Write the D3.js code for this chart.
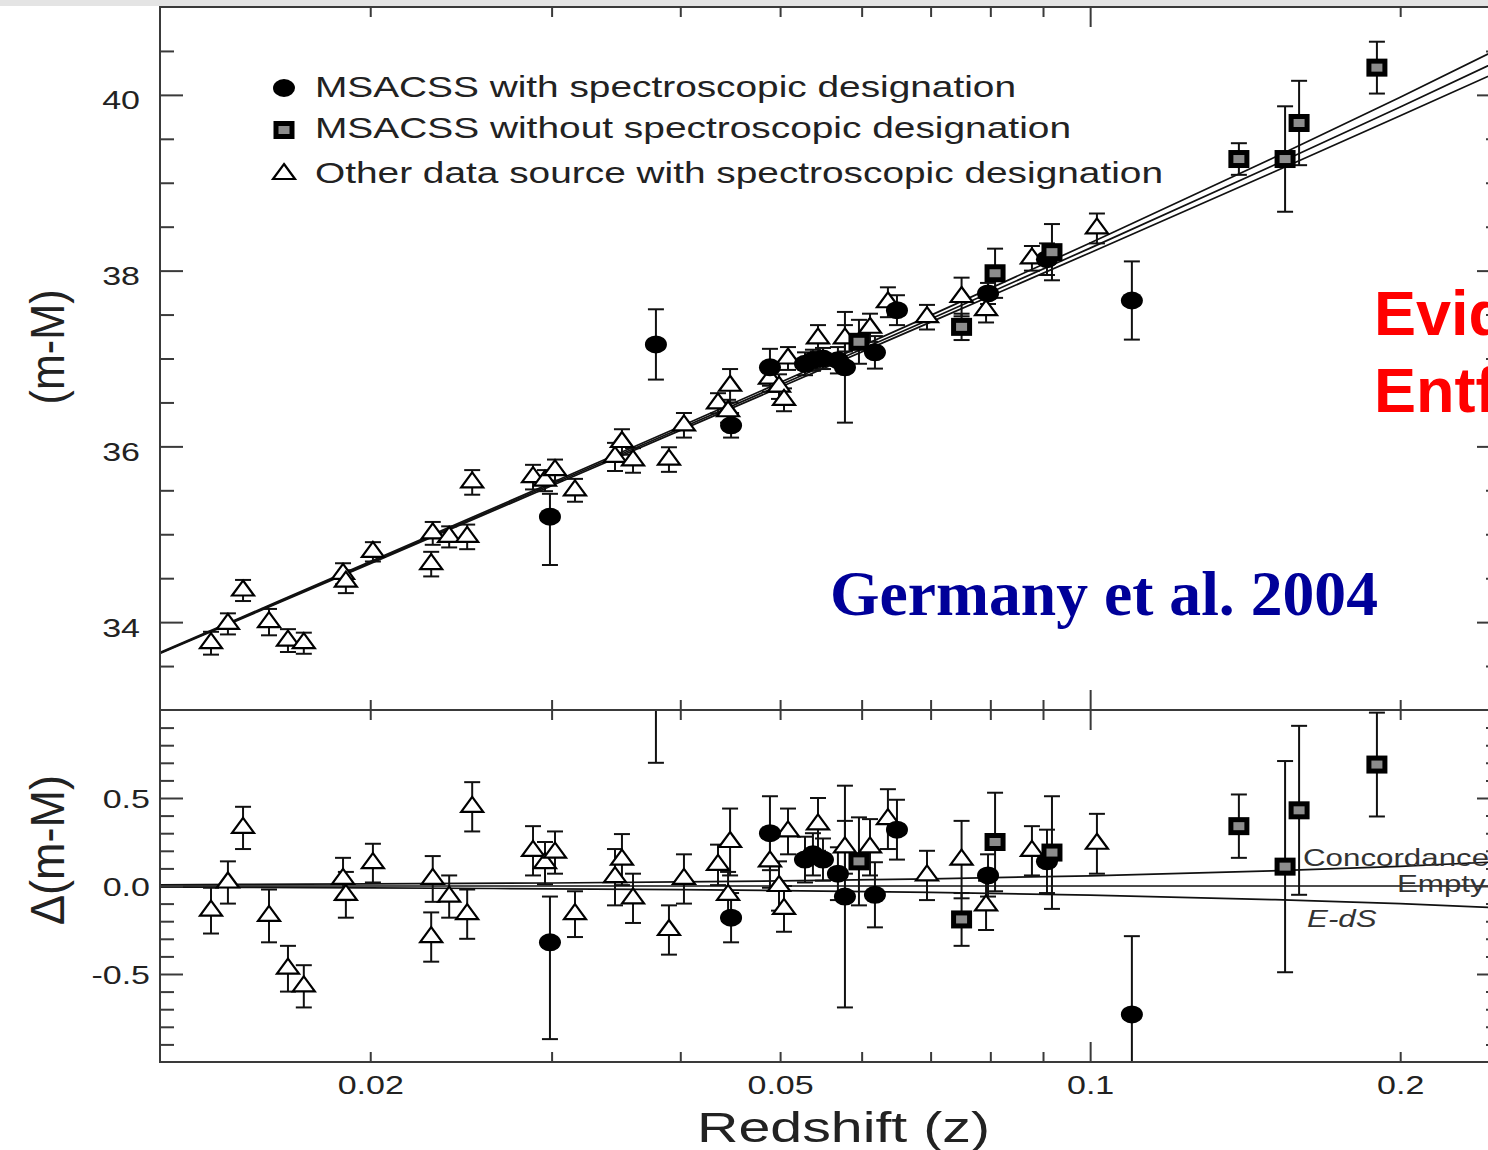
<!DOCTYPE html>
<html>
<head>
<meta charset="utf-8">
<script src="https://cdn.jsdelivr.net/npm/d3@7"></script>
<style>
  html, body { margin: 0; padding: 0; background: #fff; overflow: hidden; }
  svg { display: block; }
  text { font-family: "Liberation Sans", Arial, Helvetica, sans-serif; }
  text.serif { font-family: "Liberation Serif", "Times New Roman", serif; }
</style>
</head>
<body>
<svg id="chart" width="1488" height="1150"></svg>
<script>
// ---------- MSACSS supernovae with spectroscopic designation (filled circles) ----------
const specZ     = [0.02989, 0.03788, 0.04481, 0.04888, 0.05286, 0.05381, 0.05503, 0.05690, 0.05780, 0.06181, 0.06493, 0.07959, 0.09080, 0.10978];
const specMu    = [35.20, 37.16, 36.24, 36.90, 36.94, 36.98, 37.00, 36.98, 36.90, 37.07, 37.55, 37.74, 38.13, 37.66];
const specRes   = [-0.32, 1.10, -0.18, 0.30, 0.15, 0.18, 0.15, 0.07, -0.06, -0.05, 0.32, 0.06, 0.14, -0.73];
const specErrLo = [0.55, 0.40, 0.14, 0.21, 0.13, 0.12, 0.12, 0.15, 0.63, 0.185, 0.17, 0.12, 0.18, 0.445];
const specErrHi = [0.26, 0.40, 0.14, 0.21, 0.13, 0.12, 0.12, 0.15, 0.63, 0.185, 0.17, 0.12, 0.18, 0.445];

// ---------- MSACSS supernovae without spectroscopic designation (grey squares) ----------
const noSpecZ   = [0.05964, 0.07502, 0.08085, 0.09182, 0.13945, 0.15462, 0.15954, 0.18986];
const noSpecMu  = [37.19, 37.36, 37.97, 38.21, 39.27, 39.27, 39.68, 40.31];
const noSpecRes = [0.14, -0.19, 0.25, 0.19, 0.34, 0.11, 0.43, 0.69];
const noSpecErr = [0.25, 0.15, 0.28, 0.32, 0.18, 0.60, 0.48, 0.295];

// ---------- other data sources with spectroscopic designation (open triangles) ----------
const otherZ = [0.01401, 0.01455, 0.01505, 0.01595, 0.01664, 0.01724, 0.01882, 0.01894, 0.02012, 0.02300,
                0.02292, 0.02386, 0.02484, 0.02512, 0.02878, 0.02956, 0.03023, 0.03161, 0.03457, 0.03511,
                0.03599, 0.03900, 0.04033, 0.04352, 0.04471, 0.04451, 0.04888, 0.04988, 0.05044, 0.05089,
                0.05442, 0.05780, 0.06113, 0.06363, 0.06944, 0.07502, 0.07924, 0.08780, 0.10153];
const otherMu = [33.76, 33.98, 34.36, 34.00, 33.79, 33.76, 34.55, 34.46, 34.80, 35.01,
                 34.66, 34.97, 34.97, 35.59, 35.65, 35.61, 35.73, 35.50, 35.88, 36.05,
                 35.84, 35.85, 36.24, 36.49, 36.69, 36.40, 36.77, 36.68, 36.53, 37.00,
                 37.23, 37.23, 37.35, 37.64, 37.47, 37.70, 37.55, 38.14, 38.48];
const otherRes = [-0.14, 0.02, 0.33, -0.17, -0.47, -0.57, 0.04, -0.05, 0.13, 0.04,
                  -0.29, -0.06, -0.16, 0.45, 0.20, 0.13, 0.19, -0.16, 0.05, 0.15,
                  -0.07, -0.25, 0.04, 0.12, 0.25, -0.05, 0.14, 0.00, -0.13, 0.31,
                  0.35, 0.22, 0.22, 0.38, 0.06, 0.15, -0.11, 0.20, 0.24];
const otherErr = [0.13, 0.12, 0.12, 0.15, 0.13, 0.12, 0.12, 0.13, 0.11, 0.13,
                  0.14, 0.12, 0.14, 0.14, 0.14, 0.12, 0.12, 0.13, 0.16, 0.145,
                  0.14, 0.14, 0.14, 0.115, 0.19, 0.13, 0.15, 0.14, 0.13, 0.13,
                  0.15, 0.15, 0.16, 0.17, 0.14, 0.22, 0.14, 0.14, 0.17];

// ---------- cosmological model curves ----------
const modelZ       = [0.0125, 0.015, 0.02, 0.03, 0.04, 0.05, 0.07, 0.1, 0.15, 0.2, 0.25];
const modelMuEmpty = [33.648, 34.047, 34.677, 35.568, 36.203, 36.698, 37.450, 38.256, 39.187, 39.862, 40.395];
const resConcordance = [0.007, 0.009, 0.012, 0.017, 0.023, 0.029, 0.041, 0.058, 0.086, 0.112, 0.138];
const resEmpty       = [0, 0, 0, 0, 0, 0, 0, 0, 0, 0, 0];
const resEdS         = [-0.006, -0.008, -0.011, -0.016, -0.021, -0.026, -0.036, -0.052, -0.077, -0.100, -0.124];
const modelNames = ["Concordance", "Empty", "E-dS"];

// ---------- axis ticks ----------
const xMinorTicks = [0.02, 0.03, 0.04, 0.05, 0.06, 0.07, 0.08, 0.09, 0.2];
const xMajorTicks = [0.1];
const xLabelTicks = [0.02, 0.05, 0.1, 0.2];
const xLabelText  = ["0.02", "0.05", "0.1", "0.2"];
const muMajorTicks = [34, 36, 38, 40];
const muMinorTicks = [33.5, 34.5, 35, 35.5, 36.5, 37, 37.5, 38.5, 39, 39.5, 40.5];
const resMajorTicks = [-0.5, 0, 0.5];
const resLabelText  = ["-0.5", "0.0", "0.5"];
const resMinorTicks = [-0.9, -0.8, -0.7, -0.6, -0.4, -0.3, -0.2, -0.1, 0.1, 0.2, 0.3, 0.4, 0.6, 0.7, 0.8, 0.9];

const legendLabels = [
  "MSACSS with spectroscopic designation",
  "MSACSS without spectroscopic designation",
  "Other data source with spectroscopic designation"
];

// ---------- layout ----------
const L = 160, R = 1500, T = 7, MID = 710, B = 1062;
const WIDE = 1.36;            // horizontal stretch of the figure lettering
const ink = "#222", frameInk = "#3a3a3a";

const svg = d3.select("#chart");
const x = d3.scaleLog().domain([0.0125, 0.25]).range([L, R]);
const yTop = d3.scaleLinear().domain([33, 41]).range([MID, T]);
const yBot = d3.scaleLinear().domain([-1, 1]).range([B, MID]);

function widen(sel, k) {
  sel.each(function () {
    const w = this.getComputedTextLength();
    this.setAttribute("textLength", (w * k).toFixed(1));
    this.setAttribute("lengthAdjust", "spacingAndGlyphs");
  });
}

// grey strip along the top edge
svg.append("rect").attr("x", 0).attr("y", 0).attr("width", 1488).attr("height", 6).attr("fill", "#e4e4e4");

// clip regions for the two panels
const defs = svg.append("defs");
defs.append("clipPath").attr("id", "clipTop").append("rect")
  .attr("x", L).attr("y", T).attr("width", R - L).attr("height", MID - T);
defs.append("clipPath").attr("id", "clipBot").append("rect")
  .attr("x", L).attr("y", MID).attr("width", R - L).attr("height", B - MID);

// ---------- assemble records ----------
const spec = specZ.map((z, i) => ({ z, mu: specMu[i], res: specRes[i], lo: specErrLo[i], hi: specErrHi[i] }));
const noSpec = noSpecZ.map((z, i) => ({ z, mu: noSpecMu[i], res: noSpecRes[i], lo: noSpecErr[i], hi: noSpecErr[i] }));
const other = otherZ.map((z, i) => ({ z, mu: otherMu[i], res: otherRes[i], lo: otherErr[i], hi: otherErr[i] }));
const models = [resConcordance, resEmpty, resEdS].map((res, m) => ({
  name: modelNames[m],
  pts: modelZ.map((z, i) => ({ z, mu: modelMuEmpty[i] + res[i], res: res[i] }))
}));

// ---------- marker shapes ----------
function drawCircle(g) {
  g.append("ellipse").attr("rx", 11).attr("ry", 9).attr("fill", "#000");
}
function drawSquare(g) {
  g.append("rect").attr("x", -8).attr("y", -6.5).attr("width", 16).attr("height", 13)
    .attr("fill", "#8c8c8c").attr("stroke", "#000").attr("stroke-width", 5);
}
function drawTriangle(g) {
  g.append("path").attr("d", "M0,-10L11,5L-11,5Z")
    .attr("fill", "#fff").attr("stroke", "#000").attr("stroke-width", 2.2).attr("stroke-linejoin", "miter");
}

function panel(clipId, yScale, key) {
  const g = svg.append("g").attr("clip-path", `url(#${clipId})`);
  // model curves
  const line = d3.line().x(d => x(d.z)).y(d => yScale(d[key])).curve(d3.curveMonotoneX);
  g.selectAll("path.model").data(models).join("path")
    .attr("class", "model")
    .attr("d", d => line(d.pts))
    .attr("fill", "none").attr("stroke", "#111").attr("stroke-width", 1.7);

  const groups = [[other, drawTriangle], [spec, drawCircle], [noSpec, drawSquare]];
  const val = d => (key === "mu" ? d.mu : d.res);
  // error bars
  groups.forEach(([data]) => {
    const eb = g.append("g").selectAll("g").data(data).join("g");
    eb.append("line")
      .attr("x1", d => x(d.z)).attr("x2", d => x(d.z))
      .attr("y1", d => yScale(val(d) - d.lo)).attr("y2", d => yScale(val(d) + d.hi))
      .attr("stroke", "#111").attr("stroke-width", 2);
    eb.append("line")
      .attr("x1", d => x(d.z) - 8).attr("x2", d => x(d.z) + 8)
      .attr("y1", d => yScale(val(d) - d.lo)).attr("y2", d => yScale(val(d) - d.lo))
      .attr("stroke", "#111").attr("stroke-width", 2);
    eb.append("line")
      .attr("x1", d => x(d.z) - 8).attr("x2", d => x(d.z) + 8)
      .attr("y1", d => yScale(val(d) + d.hi)).attr("y2", d => yScale(val(d) + d.hi))
      .attr("stroke", "#111").attr("stroke-width", 2);
  });
  // markers
  groups.forEach(([data, shape]) => {
    g.append("g").selectAll("g").data(data).join("g")
      .attr("transform", d => `translate(${x(d.z)},${yScale(val(d))})`)
      .each(function () { shape(d3.select(this)); });
  });
}

panel("clipTop", yTop, "mu");
panel("clipBot", yBot, "res");

// ---------- frames ----------
[[T, MID], [MID, B]].forEach(([y0, y1]) => {
  svg.append("rect").attr("x", L).attr("y", y0).attr("width", R - L).attr("height", y1 - y0)
    .attr("fill", "none").attr("stroke", frameInk).attr("stroke-width", 2);
});

// ---------- axes (ticks point inward) ----------
function styleAxis(g) {
  g.select(".domain").remove();
  g.selectAll(".tick line").attr("stroke", frameInk).attr("stroke-width", 2);
  g.selectAll(".tick text").attr("fill", ink).attr("font-size", 25);
}
function addAxis(gen, tx, ty) {
  const g = svg.append("g").attr("transform", `translate(${tx},${ty})`).call(gen);
  styleAxis(g);
  return g;
}
// x ticks on every horizontal edge
[[d3.axisTop, T], [d3.axisBottom, MID], [d3.axisTop, MID]].forEach(([mk, y0]) => {
  addAxis(mk(x).tickValues(xMinorTicks).tickSize(-10).tickFormat(""), 0, y0);
  addAxis(mk(x).tickValues(xMajorTicks).tickSize(-20).tickFormat(""), 0, y0);
});
addAxis(d3.axisBottom(x).tickValues(xMinorTicks).tickSize(-10).tickFormat(""), 0, B);
addAxis(d3.axisBottom(x).tickValues(xMajorTicks).tickSize(-20).tickFormat(""), 0, B);
const xLab = addAxis(d3.axisBottom(x).tickValues(xLabelTicks).tickSize(0).tickPadding(14)
  .tickFormat((d, i) => xLabelText[i]), 0, B);
widen(xLab.selectAll(".tick text"), WIDE);

// y ticks, top panel
addAxis(d3.axisLeft(yTop).tickValues(muMinorTicks).tickSize(-14).tickFormat(""), L, 0);
const muLab = addAxis(d3.axisLeft(yTop).tickValues(muMajorTicks).tickSize(-23).tickPadding(20).tickFormat(d3.format("d")), L, 0);
muLab.selectAll(".tick text").attr("dy", "0.56em");
widen(muLab.selectAll(".tick text"), WIDE);
addAxis(d3.axisRight(yTop).tickValues(muMinorTicks).tickSize(-14).tickFormat(""), R, 0);
addAxis(d3.axisRight(yTop).tickValues(muMajorTicks).tickSize(-23).tickFormat(""), R, 0);

// y ticks, residual panel
addAxis(d3.axisLeft(yBot).tickValues(resMinorTicks).tickSize(-14).tickFormat(""), L, 0);
const resLab = addAxis(d3.axisLeft(yBot).tickValues(resMajorTicks).tickSize(-23).tickPadding(10)
  .tickFormat((d, i) => resLabelText[i]), L, 0);
resLab.selectAll(".tick text").attr("dy", "0.36em");
widen(resLab.selectAll(".tick text"), WIDE);
addAxis(d3.axisRight(yBot).tickValues(resMinorTicks).tickSize(-14).tickFormat(""), R, 0);
addAxis(d3.axisRight(yBot).tickValues(resMajorTicks).tickSize(-23).tickFormat(""), R, 0);

// ---------- model labels in the residual panel ----------
const modelLabelPos = [
  { x: 1303, y: 866, italic: false },
  { x: 1397, y: 892, italic: false },
  { x: 1307, y: 927, italic: true }
];
modelNames.forEach((name, i) => {
  const p = modelLabelPos[i];
  const t = svg.append("text").attr("x", p.x).attr("y", p.y).attr("font-size", 23)
    .attr("fill", "#333").attr("font-style", p.italic ? "italic" : "normal").text(name);
  widen(t, WIDE);
});

// ---------- axis titles ----------
svg.append("text").attr("x", 697).attr("y", 1142).attr("font-size", 42).attr("fill", ink)
  .attr("textLength", 293).attr("lengthAdjust", "spacingAndGlyphs").text("Redshift (z)");
svg.append("text").attr("transform", "translate(64,347) scale(1.36,1) rotate(-90)")
  .attr("text-anchor", "middle").attr("font-size", 36).attr("fill", ink)
  .attr("textLength", 115).attr("lengthAdjust", "spacingAndGlyphs").text("(m-M)");
svg.append("text").attr("transform", "translate(64,850) scale(1.36,1) rotate(-90)")
  .attr("text-anchor", "middle").attr("font-size", 36).attr("fill", ink)
  .attr("textLength", 150).attr("lengthAdjust", "spacingAndGlyphs").text("\u0394(m-M)");

// ---------- legend ----------
const legendRows = [
  { cy: 88, base: 97, len: 701, shape: drawCircle },
  { cy: 130, base: 138, len: 756, shape: drawSquare },
  { cy: 174, base: 183, len: 848, shape: drawTriangle }
];
legendRows.forEach((r, i) => {
  const g = svg.append("g").attr("transform", `translate(284,${r.cy})`);
  r.shape(g);
  svg.append("text").attr("x", 315).attr("y", r.base).attr("font-size", 30).attr("fill", ink)
    .attr("textLength", r.len).attr("lengthAdjust", "spacingAndGlyphs").text(legendLabels[i]);
});

// ---------- annotations ----------
svg.append("text").attr("class", "serif").attr("x", 830).attr("y", 615)
  .attr("font-weight", "bold").attr("font-size", 64).attr("fill", "#000099")
  .attr("textLength", 548).attr("lengthAdjust", "spacingAndGlyphs").text("Germany et al. 2004");
svg.append("text").attr("x", 1374).attr("y", 335).attr("font-weight", "bold")
  .attr("font-size", 63).attr("fill", "#ff0000").text("Evidenz");
svg.append("text").attr("x", 1374).attr("y", 412).attr("font-weight", "bold")
  .attr("font-size", 63).attr("fill", "#ff0000").text("Entfernung");
</script>
</body>
</html>
